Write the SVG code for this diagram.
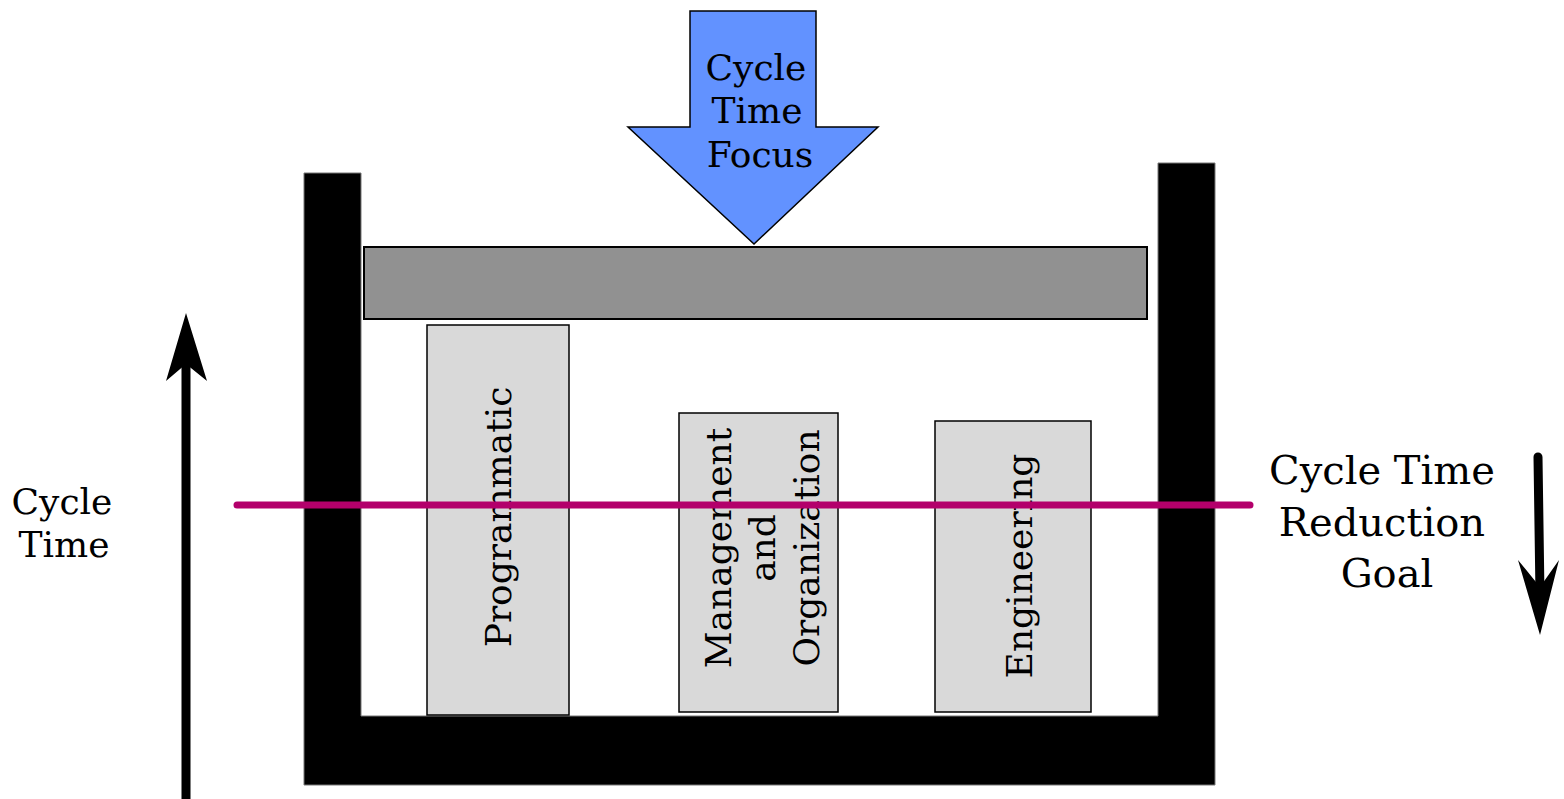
<svg xmlns="http://www.w3.org/2000/svg" width="1564" height="799" viewBox="0 0 1564 799">
<style>
.t{font-family:"DejaVu Serif","Liberation Serif",serif;font-size:36px;fill:#000;text-anchor:middle}
.big{font-size:40px}
.box{fill:#d9d9d9;stroke:#000;stroke-width:1.5}
</style>
<rect width="1564" height="799" fill="#fff"/>
<g id="container">
<path d="M304,173 H361 V716 H1158 V163 H1215 V785 H304 Z" fill="#000" stroke="#777" stroke-width="1"/>
</g>
<g id="lid">
<rect x="364" y="247" width="783" height="72" fill="#919191" stroke="#000" stroke-width="2"/>
</g>
<g id="focus-arrow">
<polygon points="690,11 816,11 816,127 878,127 754,244 628,127 690,127" fill="#6292ff" stroke="#000" stroke-width="1.5"/>
<text class="t" x="756" y="80">Cycle</text>
<text class="t" x="757" y="123">Time</text>
<text class="t" x="760" y="167">Focus</text>
</g>
<g id="programmatic">
<rect class="box" x="427" y="325" width="142" height="390"/>
<text class="t" transform="translate(511,517) rotate(-90)">Programmatic</text>
</g>
<g id="management">
<rect class="box" x="679" y="413" width="159" height="299"/>
<text class="t" transform="translate(731,548) rotate(-90)">Management</text>
<text class="t" transform="translate(775,548) rotate(-90)">and</text>
<text class="t" transform="translate(819,548) rotate(-90)">Organization</text>
</g>
<g id="engineering">
<rect class="box" x="935" y="421" width="156" height="291"/>
<text class="t" transform="translate(1032,566) rotate(-90)">Engineering</text>
</g>
<g id="connectors">
<line x1="237" y1="505" x2="1250" y2="505" stroke="#b3006b" stroke-width="7" stroke-linecap="round"/>
<line x1="186" y1="799" x2="186" y2="360" stroke="#000" stroke-width="9"/>
<polygon points="186,313 207,381 186,364 166,381" fill="#000"/>
<line x1="1538" y1="457" x2="1540" y2="595" stroke="#000" stroke-width="9" stroke-linecap="round"/>
<polygon points="1540,635 1518,560 1540,587 1559,560" fill="#000"/>
</g>
<g id="labels">
<text class="t" x="62" y="514">Cycle</text>
<text class="t" x="64" y="557">Time</text>
<text class="t big" x="1382" y="484">Cycle Time</text>
<text class="t big" x="1382" y="536">Reduction</text>
<text class="t big" x="1387" y="587">Goal</text>
</g>
</svg>
